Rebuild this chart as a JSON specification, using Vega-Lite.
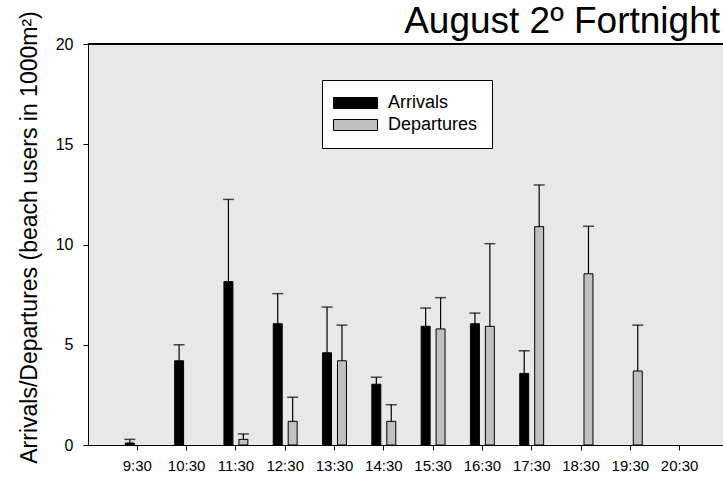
{
  "$schema": "https://vega.github.io/schema/vega-lite/v6.json",
  "width": 635,
  "height": 401,
  "autosize": "none",
  "padding": {"left": 88, "top": 44, "right": 0, "bottom": 35},
  "background": "white",
  "config": {
    "font": "Liberation Sans",
    "view": {"stroke": null, "fill": "#e8e8e8"}
  },
  "title": {
    "text": "August 2º Fortnight",
    "anchor": "end",
    "frame": "group",
    "fontSize": 37,
    "fontWeight": "normal",
    "color": "#000",
    "baseline": "alphabetic",
    "offset": 7,
    "dx": -3,
    "dy": 66
  },
  "data": {
    "values": [
      {"time": "9:30", "type": "Arrivals", "value": 0.1, "upper": 0.28},
      {"time": "10:30", "type": "Arrivals", "value": 4.2, "upper": 5.0},
      {"time": "11:30", "type": "Arrivals", "value": 8.15, "upper": 12.25},
      {"time": "11:30", "type": "Departures", "value": 0.28, "upper": 0.55},
      {"time": "12:30", "type": "Arrivals", "value": 6.05, "upper": 7.55},
      {"time": "12:30", "type": "Departures", "value": 1.18, "upper": 2.38},
      {"time": "13:30", "type": "Arrivals", "value": 4.6, "upper": 6.88},
      {"time": "13:30", "type": "Departures", "value": 4.2, "upper": 5.98},
      {"time": "14:30", "type": "Arrivals", "value": 3.03, "upper": 3.38},
      {"time": "14:30", "type": "Departures", "value": 1.18, "upper": 2.01},
      {"time": "15:30", "type": "Arrivals", "value": 5.92, "upper": 6.83},
      {"time": "15:30", "type": "Departures", "value": 5.79, "upper": 7.35},
      {"time": "16:30", "type": "Arrivals", "value": 6.05, "upper": 6.58},
      {"time": "16:30", "type": "Departures", "value": 5.92, "upper": 10.04},
      {"time": "17:30", "type": "Arrivals", "value": 3.57, "upper": 4.7},
      {"time": "17:30", "type": "Departures", "value": 10.89, "upper": 12.97},
      {"time": "18:30", "type": "Departures", "value": 8.54, "upper": 10.91},
      {"time": "19:30", "type": "Departures", "value": 3.69, "upper": 5.98}
    ]
  },
  "encoding": {
    "x": {
      "field": "time",
      "type": "nominal",
      "scale": {
        "type": "band",
        "domain": ["9:30", "10:30", "11:30", "12:30", "13:30", "14:30", "15:30", "16:30", "17:30", "18:30", "19:30", "20:30"],
        "paddingInner": 0,
        "paddingOuter": 0.44,
        "align": 0.568
      },
      "axis": {
        "title": null,
        "labelAngle": 0,
        "tickSize": 5,
        "domainColor": "#000",
        "tickColor": "#000",
        "labelColor": "#000",
        "labelFontSize": 15,
        "labelPadding": 8,
        "grid": false
      }
    },
    "xOffset": {
      "field": "type",
      "type": "nominal",
      "scale": {"domain": ["Arrivals", "Departures"], "paddingInner": 0.4, "paddingOuter": 0.85}
    }
  },
  "layer": [
    {
      "mark": {"type": "bar", "stroke": "#000", "strokeWidth": 1},
      "encoding": {
        "y": {
          "field": "value",
          "type": "quantitative",
          "scale": {"domain": [0, 20], "nice": false},
          "axis": {
            "title": "Arrivals/Departures (beach users in 1000m²)",
            "titleFontSize": 23,
            "titleFontWeight": "normal",
            "titleColor": "#000",
            "titlePadding": 14,
            "titleY": 193,
            "values": [0, 5, 10, 15, 20],
            "tickSize": 5,
            "labelPadding": 10,
            "labelFontSize": 16,
            "labelColor": "#000",
            "domainColor": "#000",
            "tickColor": "#000",
            "grid": false
          }
        },
        "color": {
          "field": "type",
          "type": "nominal",
          "scale": {"domain": ["Arrivals", "Departures"], "range": ["#000000", "#c0c0c0"]},
          "legend": {
            "title": null,
            "orient": "none",
            "legendX": 234,
            "legendY": 36,
            "fillColor": "#ffffff",
            "strokeColor": "#000",
            "padding": 14,
            "symbolType": "M-4,-1H4V1H-4Z",
            "symbolSize": 121,
            "symbolOffset": 10.5,
            "symbolStrokeColor": "#000",
            "symbolStrokeWidth": 1,
            "labelFontSize": 18,
            "labelColor": "#000",
            "labelOffset": 23.5,
            "rowPadding": 4
          }
        }
      }
    },
    {
      "mark": {"type": "rule", "color": "#000", "strokeWidth": 1.2},
      "encoding": {
        "y": {"field": "value", "type": "quantitative"},
        "y2": {"field": "upper"}
      }
    },
    {
      "mark": {"type": "tick", "color": "#000", "size": 11, "thickness": 1.5},
      "encoding": {
        "y": {"field": "upper", "type": "quantitative"}
      }
    },
    {
      "mark": {"type": "rule", "color": "#000", "strokeWidth": 1.5},
      "encoding": {
        "y": {"datum": 20, "type": "quantitative"},
        "x": null,
        "xOffset": null
      }
    }
  ]
}
